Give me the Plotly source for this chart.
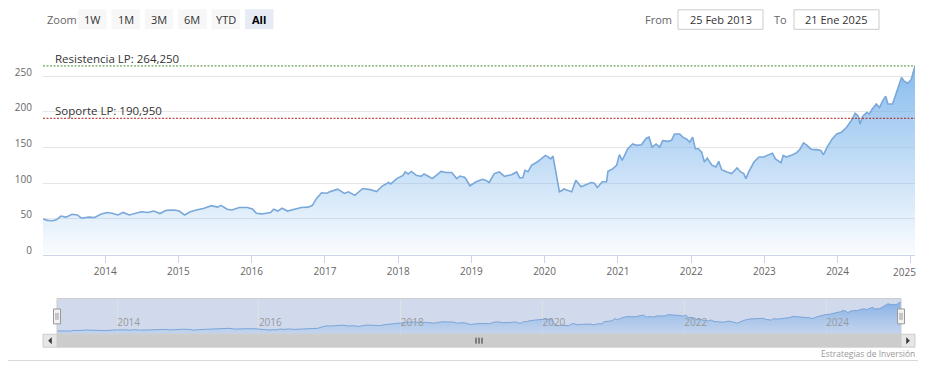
import plotly.graph_objects as go
import numpy as np

# ---------------- data ----------------
dates = [
    "2013-02-25", "2013-03-20", "2013-04-15", "2013-05-05", "2013-05-25", "2013-06-20",
    "2013-07-20", "2013-08-15", "2013-09-05", "2013-10-10", "2013-11-10", "2013-12-10",
    "2014-01-10", "2014-02-05", "2014-03-05", "2014-04-01", "2014-05-01", "2014-06-01",
    "2014-07-01", "2014-08-01", "2014-09-01", "2014-10-01", "2014-11-01", "2014-12-10",
    "2015-01-05", "2015-02-01", "2015-03-01", "2015-04-01", "2015-05-10", "2015-06-15",
    "2015-07-15", "2015-08-01", "2015-09-01", "2015-09-25", "2015-11-01", "2015-12-10",
    "2016-01-05", "2016-01-25", "2016-02-20", "2016-04-05", "2016-04-20", "2016-05-10",
    "2016-06-01", "2016-06-28", "2016-08-01", "2016-09-05", "2016-10-10", "2016-10-30",
    "2016-11-20", "2016-12-15", "2017-01-10", "2017-01-25", "2017-03-05", "2017-04-08",
    "2017-04-28", "2017-05-30", "2017-07-08", "2017-08-15", "2017-09-15", "2017-10-15",
    "2017-11-15", "2017-11-25", "2017-12-25", "2018-01-25", "2018-02-05", "2018-02-20",
    "2018-03-08", "2018-04-01", "2018-04-25", "2018-05-10", "2018-06-05", "2018-06-20",
    "2018-07-10", "2018-08-03", "2018-08-28", "2018-09-25", "2018-10-20", "2018-11-05",
    "2018-11-30", "2018-12-25", "2019-01-25", "2019-02-25", "2019-03-15", "2019-03-31",
    "2019-04-25", "2019-05-20", "2019-06-15", "2019-07-20", "2019-08-15", "2019-08-30",
    "2019-09-15", "2019-09-25", "2019-10-10", "2019-10-28", "2019-11-25", "2019-12-20",
    "2020-01-05", "2020-01-18", "2020-02-01", "2020-02-12", "2020-02-28", "2020-03-15",
    "2020-03-28", "2020-04-05", "2020-04-20", "2020-05-15", "2020-06-05", "2020-07-01",
    "2020-07-25", "2020-08-20", "2020-09-05", "2020-09-20", "2020-10-15", "2020-11-05",
    "2020-11-12", "2020-12-05", "2020-12-25", "2021-01-08", "2021-01-22", "2021-02-18",
    "2021-03-15", "2021-04-05", "2021-04-28", "2021-05-22", "2021-06-05", "2021-06-20",
    "2021-07-10", "2021-07-28", "2021-08-12", "2021-09-08", "2021-09-25", "2021-10-10",
    "2021-11-05", "2021-11-20", "2021-12-08", "2021-12-25", "2022-01-08", "2022-01-22",
    "2022-02-05", "2022-02-22", "2022-03-08", "2022-03-22", "2022-04-15", "2022-05-05",
    "2022-05-18", "2022-06-02", "2022-06-28", "2022-07-22", "2022-08-18", "2022-09-05",
    "2022-09-20", "2022-10-01", "2022-10-15", "2022-11-10", "2022-12-05", "2022-12-30",
    "2023-01-15", "2023-02-10", "2023-02-25", "2023-03-25", "2023-04-05", "2023-04-20",
    "2023-05-15", "2023-06-10", "2023-06-28", "2023-07-15", "2023-07-30", "2023-08-20",
    "2023-09-05", "2023-09-20", "2023-10-10", "2023-10-22", "2023-11-10", "2023-12-05",
    "2023-12-28", "2024-01-20", "2024-02-15", "2024-03-15", "2024-03-28", "2024-04-12",
    "2024-04-22", "2024-05-05", "2024-05-25", "2024-06-08", "2024-06-22", "2024-07-12",
    "2024-07-28", "2024-08-12", "2024-08-28", "2024-09-08", "2024-10-01", "2024-10-15",
    "2024-10-30", "2024-11-15", "2024-11-28", "2024-12-15", "2025-01-02", "2025-01-21",
]
prices = [
    50, 48, 47.5, 49, 54, 52.5,
    56.5, 55.5, 51, 52.5, 52, 56.5,
    59, 58, 55.5, 59, 55.5, 58,
    60, 59, 61, 57.5, 62, 62.5,
    61, 55.5, 60, 62.5, 65, 68.5,
    66.5, 69, 63.5, 62.5, 66, 66,
    64, 58, 57, 59, 63.5, 61,
    65, 61, 64, 66, 66.5, 69,
    78.7, 86.6, 86, 88, 91.7, 85.7,
    88, 83, 92.6, 91, 88.4, 96.4,
    101, 99, 106.5, 111, 115.8, 113,
    116.5, 111, 109.6, 113, 109, 106.5,
    111, 116.5, 115, 115, 106.5, 110,
    108, 96.4, 102, 105.6, 104, 101,
    113.5, 115.8, 109.7, 112, 115.8, 107.5,
    108, 118, 116, 125, 129.7, 135,
    139, 137, 134, 138, 111, 88,
    89.7, 92, 90.5, 88, 104, 95,
    98, 101, 100, 94, 102, 102,
    116.7, 120, 125, 140, 132, 148,
    155, 153, 154, 163, 164.5, 150.5,
    155, 150.5, 159.7, 158.6, 160, 169,
    169, 164.5, 162, 157.5, 164.5, 148,
    148.6, 143.6, 129.7, 135, 125, 122.8,
    130.6, 119, 115.8, 113.5, 121.4, 115.8,
    113.5, 106.5, 115.8, 129.7, 136.7, 136.7,
    139, 142, 134, 128.7, 139, 136.7,
    139, 142.6, 148, 156.5, 153.7, 148,
    147, 147, 145.8, 139.8, 150.5, 162,
    169, 171.4, 178.3, 190, 198, 194.4,
    183, 193.6, 199, 197, 204, 211,
    206, 215, 222, 211, 211, 222,
    236, 248, 243, 240, 245, 264.25,
]

plotline_names = ["Resistencia LP", "Soporte LP"]
plotline_values = [264.25, 190.95]
plotline_colors = ["#4a8a3a", "#b02020"]

ytick_vals = [0, 50, 100, 150, 200, 250, 300]
ytick_text = ["0", "50", "100", "150", "200", "250", ""]
xtick_years = list(range(2014, 2026))
nav_tick_years = list(range(2014, 2025, 2))

zoom_label = "Zoom"
zoom_buttons = ["1W", "1M", "3M", "6M", "YTD", "All"]
selected_button = "All"
from_label, from_text = "From", "25 Feb 2013"
to_label, to_text = "To", "21 Ene 2025"
credit_text = "Estrategias de Inversión"

# ---------------- geometry (target pixels) ----------------
OFF = 8                          # page body margin
W, H = 910, 358                  # leaves slack so the page never scrolls
PL, PR = 43, 915                 # main plot
PT, PB = 40.7, 256.7
NL, NR = 57, 901                 # navigator
NT, NB = 301, 337
SBT, SBB = 337, 350              # scrollbar
FONT = "Open Sans"


def px(x):
    return min(1.0, max(0.0, (x - OFF) / W))


def py(y):
    return min(1.0, max(0.0, 1 - (y - OFF) / H))


fig = go.Figure()

ymax = float(np.max(prices))
ymin = float(np.min(prices))
rng = ymax - ymin

fig.add_trace(go.Scatter(
    x=dates, y=prices, mode="lines", xaxis="x", yaxis="y",
    line=dict(color="#79a8da", width=1.6),
    fill="tozeroy",
    fillgradient=dict(type="vertical", start=0, stop=ymax,
                      colorscale=[[0, "rgba(124,181,236,0.03)"],
                                  [1, "rgba(124,181,236,0.9)"]]),
    hoverinfo="skip", showlegend=False,
))

nav_lo = ymin - 0.1 * rng
nav_hi = ymax + 0.1 * rng
fig.add_trace(go.Scatter(
    x=dates, y=prices, mode="lines", xaxis="x2", yaxis="y2",
    line=dict(color="#7aa4d8", width=1),
    fill="tozeroy",
    fillgradient=dict(type="vertical", start=nav_lo, stop=ymax,
                      colorscale=[[0, "rgba(124,181,236,0.15)"],
                                  [1, "rgba(110,160,225,0.75)"]]),
    hoverinfo="skip", showlegend=False,
))

tickfont = dict(family=FONT, size=10, color="#666666")
# last year label is drawn separately (pulled inside, as Highcharts does)
xtick_text = [str(y) for y in xtick_years[:-1]] + [""]

fig.update_layout(
    width=W, height=H, autosize=False,
    margin=dict(l=0, r=0, t=0, b=0),
    paper_bgcolor="white", plot_bgcolor="white",
    xaxis=dict(
        domain=[px(PL), px(PR)], anchor="y", type="date",
        range=[dates[0], dates[-1]],
        tickvals=[f"{y}-01-01" for y in xtick_years], ticktext=xtick_text,
        ticks="outside", ticklen=7, tickcolor="#ccd6eb",
        showline=True, linecolor="#ccd6eb", linewidth=1,
        showgrid=False, zeroline=False, tickfont=tickfont,
        ticklabelstandoff=0,
    ),
    yaxis=dict(
        domain=[py(PB), py(PT)], anchor="x", range=[0, 300],
        tickvals=ytick_vals, ticktext=ytick_text,
        showgrid=True, gridcolor="#e6e6e6", gridwidth=1,
        zeroline=False, showline=False, ticks="",
        tickfont=tickfont, ticklabelshift=-4, ticklabelstandoff=10,
    ),
    xaxis2=dict(
        domain=[px(NL), px(NR)], anchor="y2", type="date",
        range=[dates[0], dates[-1]],
        tickvals=[f"{y}-01-01" for y in nav_tick_years], tickformat="%Y",
        ticklabelposition="inside right", ticks="",
        showgrid=True, gridcolor="#e0e0e0", gridwidth=1,
        showline=False, zeroline=False,
        tickfont=dict(family=FONT, size=10, color="#999999"),
    ),
    yaxis2=dict(
        domain=[py(NB), py(NT)], anchor="x2", range=[nav_lo, nav_hi],
        visible=False, showgrid=False, zeroline=False,
    ),
)

shapes = []
annotations = []

annotations.append(dict(xref="paper", yref="paper", x=px(904), y=py(274),
                        text=str(xtick_years[-1]), showarrow=False,
                        xanchor="center", yanchor="middle", font=tickfont))

# plot lines (support / resistance)
for name, val, col in zip(plotline_names, plotline_values, plotline_colors):
    shapes.append(dict(type="line", xref="x domain", yref="y", x0=0, x1=1,
                       y0=val, y1=val, line=dict(color=col, width=1, dash="2px,1.5px"),
                       layer="above"))
    label = f"{name}: {val:.3f}".replace(".", ",")
    annotations.append(dict(xref="paper", yref="y", x=px(PL + 10), y=val,
                            text=label, showarrow=False, xanchor="left",
                            yanchor="bottom", yshift=-2,
                            font=dict(family=FONT, size=11.5, color="#333333")))

# navigator mask + outline
shapes.append(dict(type="rect", xref="paper", yref="paper",
                   x0=px(NL), x1=px(NR), y0=py(NB), y1=py(NT),
                   fillcolor="rgba(102,133,194,0.3)", line=dict(width=0), layer="below"))
shapes.append(dict(type="rect", xref="paper", yref="paper",
                   x0=px(NL), x1=px(NR), y0=py(NB), y1=py(NT),
                   fillcolor="rgba(0,0,0,0)", line=dict(color="#cccccc", width=1), layer="above"))

# navigator handles
hc = (NT + NB) / 2
for hx in (NL, NR):
    shapes.append(dict(type="rect", xref="paper", yref="paper",
                       x0=px(hx - 3.5), x1=px(hx + 3.5), y0=py(hc + 7.5), y1=py(hc - 7.5),
                       fillcolor="#f2f2f2", line=dict(color="#999999", width=1), layer="above"))
    for dx in (-1, 1):
        shapes.append(dict(type="line", xref="paper", yref="paper",
                           x0=px(hx + dx), x1=px(hx + dx), y0=py(hc + 3.5), y1=py(hc - 3.5),
                           line=dict(color="#999999", width=1), layer="above"))

# scrollbar
shapes.append(dict(type="rect", xref="paper", yref="paper",
                   x0=px(PL), x1=px(PR), y0=py(SBB), y1=py(SBT),
                   fillcolor="#f2f2f2", line=dict(width=0), layer="above"))
shapes.append(dict(type="rect", xref="paper", yref="paper",
                   x0=px(NL), x1=px(NR), y0=py(SBB), y1=py(SBT),
                   fillcolor="#cccccc", line=dict(color="#cccccc", width=1), layer="above"))
for bx0, bx1 in ((PL, NL), (NR, PR)):
    shapes.append(dict(type="rect", xref="paper", yref="paper",
                       x0=px(bx0), x1=px(bx1), y0=py(SBB), y1=py(SBT),
                       fillcolor="#e6e6e6", line=dict(color="#cccccc", width=1), layer="above"))
mid_sb = (SBT + SBB) / 2
lx = (PL + NL) / 2
rx = (NR + PR) / 2
shapes.append(dict(type="path", xref="paper", yref="paper",
                   path=f"M {px(lx+1.5)} {py(mid_sb-3)} L {px(lx-1.5)} {py(mid_sb)} L {px(lx+1.5)} {py(mid_sb+3)} Z",
                   fillcolor="#333333", line=dict(color="#333333", width=0.5), layer="above"))
shapes.append(dict(type="path", xref="paper", yref="paper",
                   path=f"M {px(rx-1.5)} {py(mid_sb-3)} L {px(rx+1.5)} {py(mid_sb)} L {px(rx-1.5)} {py(mid_sb+3)} Z",
                   fillcolor="#333333", line=dict(color="#333333", width=0.5), layer="above"))
gc = (NL + NR) / 2
for dx in (-3, 0, 3):
    shapes.append(dict(type="line", xref="paper", yref="paper",
                       x0=px(gc + dx), x1=px(gc + dx), y0=py(mid_sb + 3), y1=py(mid_sb - 3),
                       line=dict(color="#333333", width=1), layer="above"))

# bottom separator
shapes.append(dict(type="line", xref="paper", yref="paper",
                   x0=px(OFF), x1=px(920), y0=py(363.5), y1=py(363.5),
                   line=dict(color="#d9d9d9", width=1)))

# credit
annotations.append(dict(xref="paper", yref="paper", x=px(917), y=py(356),
                        text=credit_text, showarrow=False, xanchor="right", yanchor="middle",
                        font=dict(family=FONT, size=8.5, color="#999999")))

# range selector
BY0, BY1 = 9.3, 29.3
annotations.append(dict(xref="paper", yref="paper", x=px(45), y=py(19.3),
                        text=zoom_label, showarrow=False, xanchor="left", yanchor="middle",
                        font=dict(family=FONT, size=11, color="#666666")))
for i, b in enumerate(zoom_buttons):
    x0 = 78 + 33.4 * i
    x1 = x0 + 28.5
    sel = (b == selected_button)
    shapes.append(dict(type="rect", xref="paper", yref="paper",
                       x0=px(x0), x1=px(x1), y0=py(BY1), y1=py(BY0),
                       fillcolor="#e6ebf5" if sel else "#f7f7f7", line=dict(width=0)))
    annotations.append(dict(xref="paper", yref="paper", x=px((x0 + x1) / 2), y=py(19.3),
                            text=f"<b>{b}</b>" if sel else b, showarrow=False,
                            xanchor="center", yanchor="middle",
                            font=dict(family=FONT, size=11, color="#000000" if sel else "#333333")))

# date inputs
for lab, lab_x, txt, bx0, bx1 in ((from_label, 658.5, from_text, 678, 763),
                                  (to_label, 780.5, to_text, 794, 879)):
    annotations.append(dict(xref="paper", yref="paper", x=px(lab_x), y=py(19.3),
                            text=lab, showarrow=False, xanchor="center", yanchor="middle",
                            font=dict(family=FONT, size=11, color="#666666")))
    shapes.append(dict(type="rect", xref="paper", yref="paper",
                       x0=px(bx0), x1=px(bx1), y0=py(29.5), y1=py(9.8),
                       fillcolor="white", line=dict(color="#cccccc", width=1)))
    annotations.append(dict(xref="paper", yref="paper", x=px((bx0 + bx1) / 2), y=py(19.5),
                            text=txt, showarrow=False, xanchor="center", yanchor="middle",
                            font=dict(family=FONT, size=11, color="#333333")))

fig.update_layout(shapes=shapes, annotations=annotations)
fig.write_html("out.html")
